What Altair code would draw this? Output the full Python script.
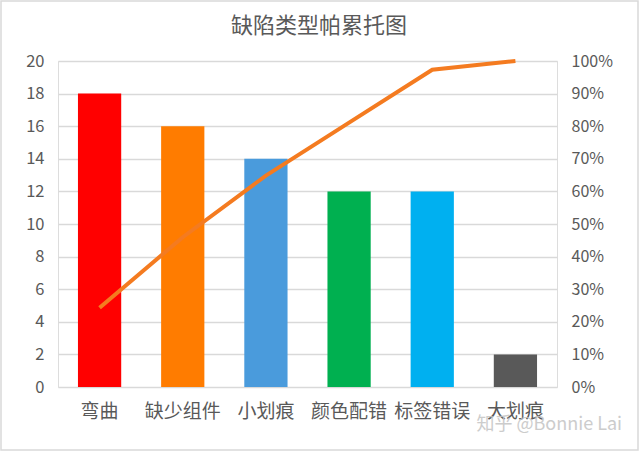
import altair as alt
import pandas as pd

categories = ["弯曲", "缺少组件", "小划痕", "颜色配错", "标签错误", "大划痕"]
counts = [18, 16, 14, 12, 12, 2]
colors = ["#FF0000", "#FF7C00", "#4A9BDC", "#00B050", "#00B0F0", "#595959"]
title_text = "缺陷类型帕累托图"
watermark_text = "知乎 @Bonnie Lai"

df = pd.DataFrame({"cat": categories, "count": counts, "order": range(len(categories))})

FONT = "Microsoft YaHei, Noto Sans CJK SC, sans-serif"
TXT = "#595959"

x = alt.X("cat:N", sort=categories, title=None,
          scale=alt.Scale(paddingInner=0.48, paddingOuter=0.24),
          axis=alt.Axis(labelAngle=0, ticks=False, domain=False, labelPadding=15,
                        labelFontSize=19, labelColor=TXT, labelFont=FONT))

bars = alt.Chart(df).mark_bar().encode(
    x=x,
    y=alt.Y("count:Q", title=None,
            scale=alt.Scale(domain=[0, 20]),
            axis=alt.Axis(values=list(range(0, 21, 2)), ticks=False, domain=False,
                          labelPadding=14, labelFontSize=16.5, labelColor=TXT,
                          labelFont=FONT, gridColor="#D9D9D9", gridWidth=1.3)),
    color=alt.Color("cat:N", sort=categories,
                    scale=alt.Scale(domain=categories, range=colors), legend=None),
)

line = alt.Chart(df).transform_window(
    cum="sum(count)", sort=[alt.SortField("order")]
).transform_joinaggregate(
    total="sum(count)"
).transform_calculate(
    pct="datum.cum / datum.total"
).mark_line(color="#F47B20", strokeWidth=4).encode(
    x=alt.X("cat:N", sort=categories),
    y=alt.Y("pct:Q", title=None, scale=alt.Scale(domain=[0, 1]),
            axis=alt.Axis(orient="right", format="%", values=[i / 10 for i in range(11)],
                          ticks=False, domain=False, grid=False, labelPadding=14,
                          labelFontSize=16, labelColor=TXT, labelFont=FONT)),
)

title = alt.Chart(pd.DataFrame({"t": [title_text]})).mark_text(
    align="center", baseline="middle", fontSize=22, color=TXT, font=FONT
).encode(x=alt.value(261), y=alt.value(-35), text="t:N")

watermark = alt.Chart(pd.DataFrame({"t": [watermark_text]})).mark_text(
    align="right", baseline="middle", fontSize=18, color="#C4C4C4", opacity=0.85, font=FONT
).encode(x=alt.value(564), y=alt.value(364), text="t:N")

frame = alt.Chart(pd.DataFrame({"a": [0]})).mark_rect(
    fill=None, stroke="#D9D9D9", strokeWidth=1.5
).encode(x=alt.value(-57), x2=alt.value(580), y=alt.value(-60), y2=alt.value(389))

chart = alt.layer(bars, line).resolve_scale(y="independent", color="independent")
chart = alt.layer(chart, title, watermark, frame).properties(
    width=499, height=326,
    padding={"left": 58, "top": 61, "right": 82, "bottom": 64},
    autosize="none",
).configure_view(stroke="#D9D9D9", strokeWidth=1.3).configure(background="white")

chart.save("out.html", embed_options={"renderer": "svg", "actions": False})
